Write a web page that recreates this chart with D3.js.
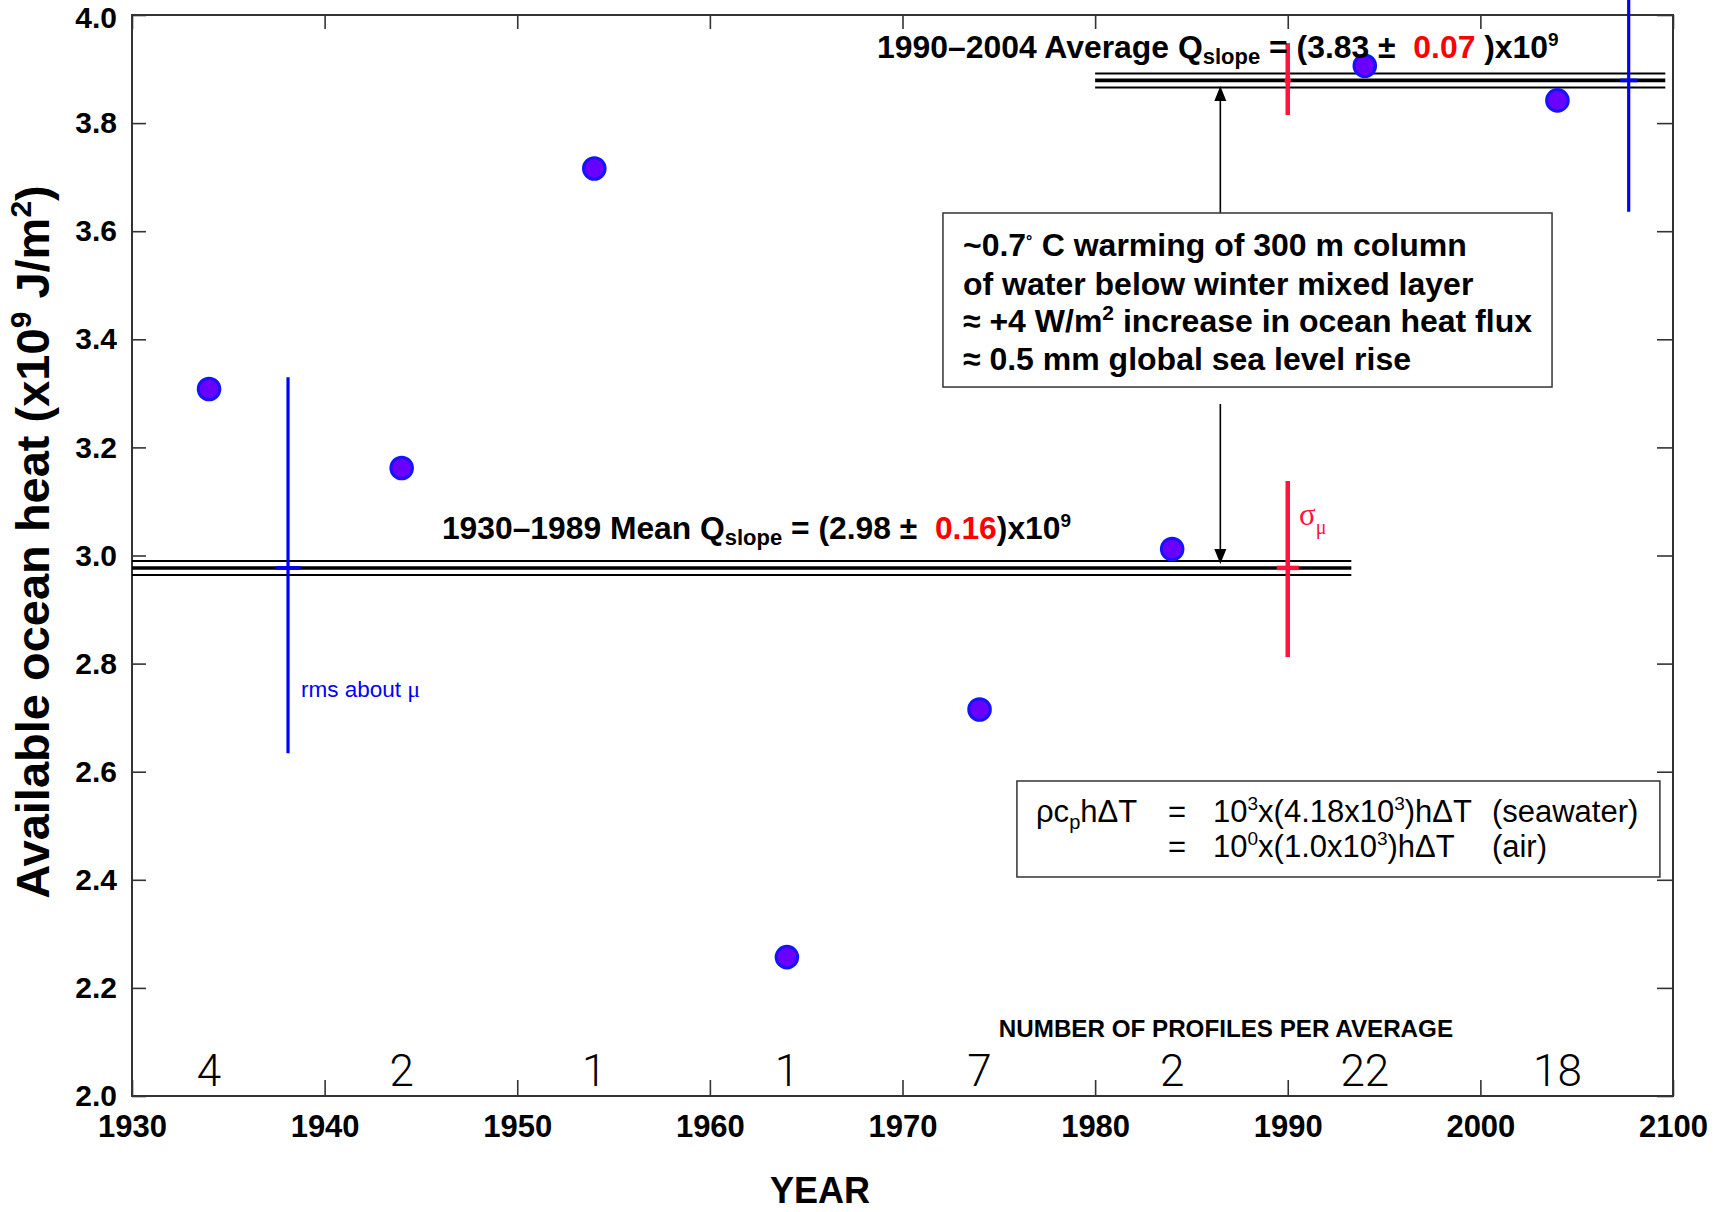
<!DOCTYPE html>
<html><head><meta charset="utf-8">
<script src="https://cdn.jsdelivr.net/npm/d3@7"></script>
<style>body{margin:0;background:#fff}</style>
</head><body><svg id="chart" width="1725" height="1212"></svg>
<script>
// ---- data ----
const years = [1934, 1944, 1954, 1964, 1974, 1984, 1994, 2004];
const heat = [3.308, 3.162, 3.716, 2.257, 2.715, 3.012, 3.906, 3.842];
const profileCounts = [4, 2, 1, 1, 7, 2, 22, 18];
const xTickValues = [1930, 1940, 1950, 1960, 1970, 1980, 1990, 2000, 2010];
const xTickLabels = ["1930", "1940", "1950", "1960", "1970", "1980", "1990", "2000", "2100"];
const yTickValues = [2.0, 2.2, 2.4, 2.6, 2.8, 3.0, 3.2, 3.4, 3.6, 3.8, 4.0];
const yTickLabels = ["2.0", "2.2", "2.4", "2.6", "2.8", "3.0", "3.2", "3.4", "3.6", "3.8", "4.0"];
const meanStart = [1930, 1980];
const meanEnd = [1993.3, 2009.6];
const meanValue = [2.977, 3.879];
const sigmaYear = [1990, 1990];
const sigmaLo = [2.812, 3.815];
const sigmaHi = [3.138, 3.948];
const rmsYear = [1938.1, 2007.7];
const rmsLo = [2.634, 3.636];
const rmsHi = [3.330, 4.122];
const arrowYear = 1986.5;

const W = 1725, H = 1212;
const L = 132, R = 1673, T = 15, B = 1096;
const svg = d3.select("#chart");
svg.append("rect").attr("width", W).attr("height", H).attr("fill", "#fff");
const x = d3.scaleLinear().domain([1930, 2010]).range([L, R]);
const y = d3.scaleLinear().domain([2.0, 4.0]).range([B, T]);
const SANS = "'Liberation Sans', Arial, Helvetica, sans-serif";
const SERIF = "'Liberation Serif', 'Times New Roman', serif";
const AX = "#333";

// ---- axes ----
const gx = svg.append("g").attr("transform", `translate(0,${B})`)
  .call(d3.axisBottom(x).tickValues(xTickValues).tickFormat((d, i) => xTickLabels[i])
    .tickSizeInner(-16).tickSizeOuter(0).tickPadding(19));
const gy = svg.append("g").attr("transform", `translate(${L},0)`)
  .call(d3.axisLeft(y).tickValues(yTickValues).tickFormat((d, i) => yTickLabels[i])
    .tickSizeInner(-14).tickSizeOuter(0).tickPadding(15));
const gt = svg.append("g").attr("transform", `translate(0,${T})`)
  .call(d3.axisTop(x).tickValues(xTickValues).tickFormat("").tickSizeInner(-14).tickSizeOuter(0));
const gr = svg.append("g").attr("transform", `translate(${R},0)`)
  .call(d3.axisRight(y).tickValues(yTickValues).tickFormat("").tickSizeInner(-16).tickSizeOuter(0));
[gx, gy, gt, gr].forEach(g => {
  g.select(".domain").remove();
  g.selectAll(".tick line").attr("stroke", AX).attr("stroke-width", 1.6);
  g.selectAll("text").attr("fill", "#000").attr("font-family", SANS).attr("font-weight", "bold");
});
gx.selectAll("text").attr("font-size", 31);
gy.selectAll("text").attr("font-size", 30);
gy.selectAll(".tick text").filter(d => d === 4.0).attr("dy", "0.42em");
svg.append("rect").attr("x", L).attr("y", T).attr("width", R - L).attr("height", B - T)
  .attr("fill", "none").attr("stroke", AX).attr("stroke-width", 2);

// ---- mean triple lines ----
meanValue.forEach((v, i) => {
  [[-7, 2], [0, 3.6], [7, 2]].forEach(([off, w]) => {
    svg.append("line").attr("x1", x(meanStart[i])).attr("x2", x(meanEnd[i]))
      .attr("y1", y(v) + off).attr("y2", y(v) + off)
      .attr("stroke", "#000").attr("stroke-width", w);
  });
});

// ---- arrows ----
const box1 = {x0: 1972.1, x1: 2003.72, top: 3.6337, bot: 3.3117};
const box2 = {x0: 1975.94, x1: 2009.32, top: 2.5828, bot: 2.4052};
function arrow(fromV, toV) {
  const ax = x(arrowYear), y0 = y(fromV), y1 = y(toV);
  const dir = y1 < y0 ? -1 : 1;
  svg.append("line").attr("x1", ax).attr("x2", ax).attr("y1", y0).attr("y2", y1 - dir * 12)
    .attr("stroke", "#000").attr("stroke-width", 1.6);
  svg.append("path").attr("d", `M${ax},${y1} L${ax - 6},${y1 - dir * 15} L${ax + 6},${y1 - dir * 15} Z`)
    .attr("fill", "#000");
}
arrow(box1.top, 3.8687);
arrow(3.2803, 2.9843);

// ---- sigma bars (red) ----
const RED = "#ff143c";
sigmaYear.forEach((yr, i) => {
  svg.append("line").attr("x1", x(yr)).attr("x2", x(yr)).attr("y1", y(sigmaLo[i])).attr("y2", y(sigmaHi[i]))
    .attr("stroke", RED).attr("stroke-width", 4.5);
});
svg.append("line").attr("x1", x(sigmaYear[0]) - 11).attr("x2", x(sigmaYear[0]) + 11)
  .attr("y1", y(meanValue[0])).attr("y2", y(meanValue[0])).attr("stroke", RED).attr("stroke-width", 4.5);
svg.append("circle").attr("cx", x(sigmaYear[1])).attr("cy", y(meanValue[1])).attr("r", 3.2).attr("fill", RED);

// ---- rms bars (blue) ----
const BLUE = "#0000ff";
rmsYear.forEach((yr, i) => {
  svg.append("line").attr("x1", x(yr)).attr("x2", x(yr)).attr("y1", y(rmsLo[i])).attr("y2", y(rmsHi[i]))
    .attr("stroke", BLUE).attr("stroke-width", 3.2);
  const hw = i === 0 ? 12.5 : 8.5;
  svg.append("line").attr("x1", x(yr) - hw).attr("x2", x(yr) + hw)
    .attr("y1", y(meanValue[i])).attr("y2", y(meanValue[i])).attr("stroke", BLUE).attr("stroke-width", 3.6);
});

// ---- points ----
svg.append("g").selectAll("circle").data(years).join("circle")
  .attr("cx", d => x(d)).attr("cy", (d, i) => y(heat[i])).attr("r", 10.8)
  .attr("fill", "#6a00ff").attr("stroke", "#1414ff").attr("stroke-width", 3);

// ---- profile counts ----
svg.append("g").selectAll("text").data(profileCounts).join("text")
  .attr("x", (d, i) => x(years[i])).attr("y", y(2.0185)).attr("text-anchor", "middle")
  .attr("font-family", "Roboto, 'DejaVu Sans', sans-serif").attr("font-weight", 300)
  .attr("font-size", 44).attr("fill", "#000").text(d => d);
svg.append("text").attr("x", x(1975.0)).attr("y", y(2.1092))
  .attr("font-family", SANS).attr("font-weight", "bold").attr("font-size", 24.2).text("NUMBER OF PROFILES PER AVERAGE");

// ---- helpers for rich text ----
function rich(xp, yp, parts, opts) {
  const t = svg.append("text").attr("x", xp).attr("y", yp)
    .attr("font-family", opts.family || SANS).attr("font-weight", opts.weight || "bold")
    .attr("font-size", opts.size).attr("fill", opts.fill || "#000").style("white-space", "pre");
  let shift = 0;
  parts.forEach(p => {
    const s = t.append("tspan").text(p.t);
    const target = p.dy || 0;
    if (target !== shift) { s.attr("dy", target - shift); shift = target; }
    if (p.size) s.attr("font-size", p.size);
    if (p.fill) s.attr("fill", p.fill);
    if (p.family) s.attr("font-family", p.family);
  });
  return t;
}

// titles
rich(x(1946.09), y(3.0305), [
  {t: "1930\u20131989 Mean Q"}, {t: "slope", size: 22, dy: 6}, {t: " = (2.98 \u00b1  "},
  {t: "0.16", fill: "#ff0000"}, {t: ")x10"}, {t: "9", size: 19, dy: -12}
], {size: 31.8});
rich(x(1968.68), y(3.9204), [
  {t: "1990\u20132004 Average Q"}, {t: "slope", size: 22, dy: 6}, {t: " = (3.83 \u00b1  "},
  {t: "0.07", fill: "#ff0000"}, {t: " )x10"}, {t: "9", size: 19, dy: -12}
], {size: 31.9});

// rms / sigma labels
rich(x(1938.77), y(2.7382), [{t: "rms about "}, {t: "\u03bc", family: SERIF, size: 24}],
  {size: 22.5, weight: "normal", fill: BLUE});
rich(x(1990.58), y(3.0564), [
  {t: "\u03c3"}, {t: "\u03bc", size: 20, dy: 9}
], {size: 31, weight: "normal", family: SERIF, fill: RED});

// box 1
svg.append("rect").attr("x", x(box1.x0)).attr("y", y(box1.top))
  .attr("width", x(box1.x1) - x(box1.x0)).attr("height", y(box1.bot) - y(box1.top))
  .attr("fill", "#fff").attr("stroke", AX).attr("stroke-width", 1.5);
const bx = x(1973.14);
rich(bx, y(3.5597) + 3, [{t: "~0.7"}, {t: "\u02da", size: 20, dy: -4}, {t: " C warming of 300 m column"}], {size: 32});
rich(bx, y(3.4875) + 3, [{t: "of water below winter mixed layer"}], {size: 32});
rich(bx, y(3.4190) + 3, [{t: "\u2248 +4 W/m"}, {t: "2", size: 21, dy: -12}, {t: " increase in ocean heat flux"}], {size: 32});
rich(bx, y(3.3487) + 3, [{t: "\u2248 0.5 mm global sea level rise"}], {size: 32});

// box 2
svg.append("rect").attr("x", x(box2.x0)).attr("y", y(box2.top))
  .attr("width", x(box2.x1) - x(box2.x0)).attr("height", y(box2.bot) - y(box2.top))
  .attr("fill", "#fff").attr("stroke", AX).attr("stroke-width", 1.5);
const fo = {size: 31, weight: "normal"};
const l1 = y(2.5069), l2 = y(2.4422);
rich(x(1976.93), l1, [{t: "\u03c1c"}, {t: "p", size: 20, dy: 7}, {t: "h\u0394T"}], fo);
rich(x(1983.78), l1, [{t: "="}], fo);
rich(x(1983.78), l2, [{t: "="}], fo);
rich(x(1986.12), l1, [{t: "10"}, {t: "3", size: 19, dy: -12}, {t: "x(4.18x10"}, {t: "3", size: 19, dy: -12}, {t: ")h\u0394T"}], fo);
rich(x(1986.12), l2, [{t: "10"}, {t: "0", size: 19, dy: -12}, {t: "x(1.0x10"}, {t: "3", size: 19, dy: -12}, {t: ")h\u0394T"}], fo);
rich(x(2000.6), l1, [{t: "(seawater)"}], fo);
rich(x(2000.6), l2, [{t: "(air)"}], fo);

// axis titles
svg.append("text").attr("x", x(1965.72)).attr("y", 1203).attr("text-anchor", "middle")
  .attr("font-family", SANS).attr("font-weight", "bold").attr("font-size", 36).text("YEAR");
const yt = svg.append("text").attr("transform", `translate(49,${y(3.025)}) rotate(-90)`)
  .attr("text-anchor", "middle").attr("font-family", SANS).attr("font-weight", "bold")
  .attr("font-size", 47).style("white-space", "pre");
yt.append("tspan").text("Available ocean heat (x10");
yt.append("tspan").text("9").attr("font-size", 30).attr("dy", -18);
yt.append("tspan").text(" J/m").attr("dy", 18);
yt.append("tspan").text("2").attr("font-size", 30).attr("dy", -18);
yt.append("tspan").text(")").attr("dy", 18);
</script></body></html>
